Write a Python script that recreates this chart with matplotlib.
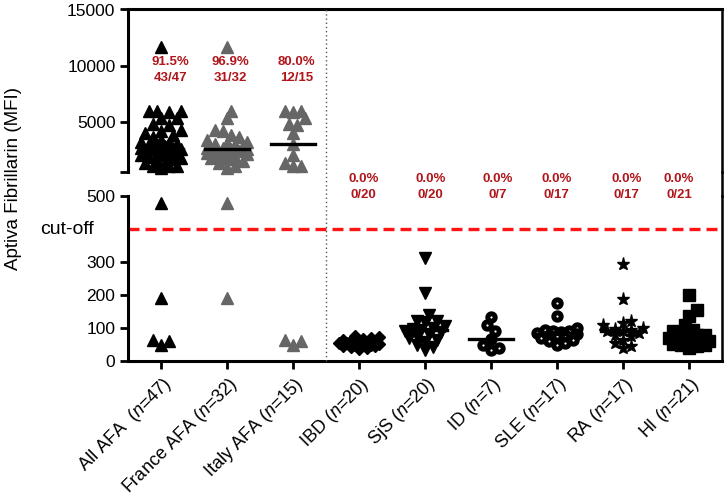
import numpy as np
import matplotlib
matplotlib.use("Agg")
import matplotlib.pyplot as plt
from matplotlib.lines import Line2D

plt.rcParams['font.family'] = ['Liberation Sans', 'DejaVu Sans']
plt.rcParams['mathtext.fontset'] = 'custom'
plt.rcParams['mathtext.it'] = 'Liberation Sans:italic'
plt.rcParams['mathtext.rm'] = 'Liberation Sans'

# ---- data (MFI values) ----
groups = ['All AFA', 'France AFA', 'Italy AFA', 'IBD', 'SjS', 'ID', 'SLE', 'RA', 'HI']

france_afa = [11700, 6000, 5300, 4300, 4200, 3800, 3600, 3400, 3200, 3100,
              3000, 2900, 2800, 2700, 2650, 2600, 2550, 2500, 2400, 2300,
              2200, 2100, 2000, 1900, 1800, 1700, 1500, 1300, 1100, 900,
              480, 190]
italy_afa = [6000, 6000, 5900, 5300, 4800, 4700, 4000, 3000, 2000, 1300,
             1100, 1100, 65, 60, 50]
all_afa = france_afa + italy_afa
ibd = [75, 72, 70, 68, 65, 62, 60, 58, 57, 55, 54, 52, 50, 50, 48, 46, 45, 42, 40, 35]
sjs = [312, 206, 140, 122, 120, 118, 105, 100, 97, 95, 92, 88, 82, 75, 70,
       65, 58, 50, 42, 32]
id_ = [134, 110, 90, 67, 50, 40, 33]
sle = [175, 135, 100, 95, 92, 90, 88, 85, 82, 80, 78, 75, 70, 65, 60, 55, 50]
ra = [295, 188, 120, 115, 110, 100, 98, 95, 92, 90, 85, 80, 75, 65, 55, 45, 38]
hi = [200, 155, 135, 110, 95, 90, 85, 80, 78, 75, 70, 65, 62, 60, 58, 55, 52,
      50, 48, 45, 40]
values = [all_afa, france_afa, italy_afa, ibd, sjs, id_, sle, ra, hi]

cutoff = 400
break_at = 500

markers = ['^', '^', '^', 'D', 'v', 'o', 'o', '*', 's']
colors = ['black', '#666666', '#666666', 'black', 'black', 'black', 'black', 'black', 'black']
# small horizontal nudge of the red labels per group
label_dx = [0.14, 0.05, 0.05, 0.07, 0.08, 0.1, -0.01, 0.05, -0.15]

red = '#b0161c'

fig = plt.figure(figsize=(7.25, 4.98), dpi=100)
W, H = 725.0, 498.0
x0, x1 = 128, 722
ax_top = fig.add_axes([x0 / W, 1 - 172.3 / H, (x1 - x0) / W, (172.3 - 9.5) / H])
ax_bot = fig.add_axes([x0 / W, 1 - 361 / H, (x1 - x0) / W, (361 - 196) / H])

for ax in (ax_top, ax_bot):
    ax.set_xlim(-0.5, 8.5)
    ax.patch.set_visible(False)
    for s in ax.spines.values():
        s.set_linewidth(2.2)
    ax.spines['right'].set_linewidth(1.8)
    ax.tick_params(axis='y', length=6, width=2, labelsize=12.5, pad=3)

ax_top.set_ylim(break_at, 15000)
ax_top.set_yticks([500, 5000, 10000, 15000])
ax_top.set_yticklabels(['', '5000', '10000', '15000'])
ax_top.spines['bottom'].set_visible(False)
ax_top.set_xticks([])

ax_bot.set_ylim(0, break_at)
ax_bot.set_yticks([0, 100, 200, 300, 500])
ax_bot.spines['top'].set_visible(False)
ax_bot.set_xticks(range(len(groups)))
ax_bot.tick_params(axis='x', length=6, width=2)
n_labels = [f'{g}  ($\\mathit{{n}}$={len(v)})' if i == 0 else f'{g} ($\\mathit{{n}}$={len(v)})'
            for i, (g, v) in enumerate(zip(groups, values))]
ax_bot.set_xticklabels(n_labels, rotation=45, ha='right', rotation_mode='anchor', fontsize=13)
ax_bot.text(-0.058, cutoff, 'cut-off', transform=ax_bot.get_yaxis_transform(),
            ha='right', va='center', fontsize=14)

fig.canvas.draw()
px_per_unit = (x1 - x0) / 9.0


def swarm(ys_px, d=8.0, half_w=22.0):
    # beeswarm with a width cap; when nothing fits, take the least crowded slot
    ys_px = np.asarray(ys_px)
    order = np.argsort(ys_px)
    xs = np.zeros(len(ys_px))
    placed = []
    slots = [0.0]
    k = 1
    while k * d / 2 <= half_w:
        slots += [k * d / 2, -k * d / 2]
        k += 1
    for idx in order:
        y = ys_px[idx]
        best, best_gap = 0.0, -1
        for c in slots:
            gap = min([np.hypot(c - px, y - py) for px, py in placed] + [1e9])
            if gap >= d:
                best = c
                break
            if gap > best_gap:
                best, best_gap = c, gap
        xs[idx] = best
        placed.append((best, y))
    return xs


for i, vals in enumerate(values):
    vals = np.array(vals, dtype=float)
    for ax, mask in ((ax_top, vals >= break_at), (ax_bot, vals < break_at)):
        v = vals[mask]
        if len(v) == 0:
            continue
        ypx = ax.transData.transform(np.column_stack([np.zeros(len(v)), v]))[:, 1]
        xs = i + swarm(ypx) / px_per_unit
        if markers[i] == 'o':
            ax.plot(xs, v, 'o', ms=5.3, mfc='white', mec=colors[i], mew=3.6, ls='none', clip_on=False)
        else:
            ms = {'^': 8.5, 'v': 8.5, 'D': 6.5, '*': 9.5, 's': 8}[markers[i]]
            ax.plot(xs, v, markers[i], ms=ms, color=colors[i], mec=colors[i], ls='none', clip_on=False)
    med = np.median(vals)
    ax = ax_top if med >= break_at else ax_bot
    ax.plot([i - 0.33, i + 0.33], [med, med], color='black', lw=2.4, zorder=5)

    pos = int(np.sum(vals > cutoff))
    pct = f'{100.0 * pos / len(vals):.1f}%'
    frac = f'{pos}/{len(vals)}'
    if pos > 0:
        ax_top.text(i + label_dx[i], 10300, pct, color=red, fontsize=9.5, fontweight='bold', ha='center', va='center')
        ax_top.text(i + label_dx[i], 8900, frac, color=red, fontsize=9.5, fontweight='bold', ha='center', va='center')
    else:
        ax_bot.text(i + label_dx[i], 551, pct, color=red, fontsize=9.5, fontweight='bold',
                    ha='center', va='center', clip_on=False)
        ax_bot.text(i + label_dx[i], 503, frac, color=red, fontsize=9.5, fontweight='bold',
                    ha='center', va='center', clip_on=False)

ax_bot.axhline(cutoff, color='#ff1414', lw=2.4, dashes=(3.3, 1.8))

# dotted separator between AFA groups and controls, across both panels
xs_fig = (x0 + 3.0 * px_per_unit) / W
fig.add_artist(Line2D([xs_fig, xs_fig], [1 - 361 / H, 1 - 9.5 / H], transform=fig.transFigure,
                      color='#555555', lw=1, ls=(0, (1, 2))))
# right frame runs through the break
xr = ax_bot.get_position().x1
fig.add_artist(Line2D([xr, xr], [1 - 196 / H, 1 - 172.3 / H], transform=fig.transFigure,
                      color='black', lw=1.8))

fig.text(0.018, 1 - 178 / H, 'Aptiva Fibrillarin (MFI)', rotation=90, ha='center', va='center', fontsize=13.5)

fig.savefig('out.png', dpi=100)
